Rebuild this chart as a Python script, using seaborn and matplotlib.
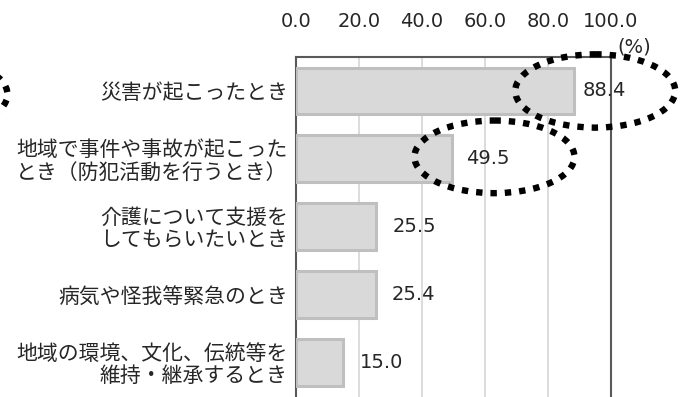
import matplotlib
matplotlib.use("Agg")
import matplotlib.pyplot as plt
from matplotlib.patches import Ellipse
import seaborn as sns
import pandas as pd

categories = [
    "災害が起こったとき",
    "地域で事件や事故が起こった\nとき（防犯活動を行うとき）",
    "介護について支援を\nしてもらいたいとき",
    "病気や怪我等緊急のとき",
    "地域の環境、文化、伝統等を\n維持・継承するとき",
]
values = [88.4, 49.5, 25.5, 25.4, 15.0]
xticks = [0, 20, 40, 60, 80, 100]
xtick_labels = ["0.0", "20.0", "40.0", "60.0", "80.0", "100.0"]

# gap (pixels) between each bar end and its value label
label_gaps = [8, 14, 16, 16, 17]

sns.set_theme(style="white")
plt.rcParams["font.family"] = ["Noto Sans CJK JP", "DejaVu Sans"]
NUM_FONT = ["DejaVu Sans"]
TXT = "#262626"

W, H = 684, 397
fig = plt.figure(figsize=(W / 100, H / 100), dpi=100)
fig.patch.set_facecolor("white")
ax = fig.add_axes([296 / W, -3 / H, 315 / W, 343 / H])

df = pd.DataFrame({"item": categories, "pct": values})
sns.barplot(data=df, x="pct", y="item", orient="h", color="#d9d9d9",
            saturation=1, edgecolor="#bfbfbf", linewidth=2.2, width=0.69,
            ax=ax, zorder=3)

ax.set_xlim(0, 100)
ax.set_ylim(4.55, -0.5)
ax.set_xlabel("")
ax.set_ylabel("")
ax.xaxis.tick_top()
ax.set_xticks(xticks)
ax.set_xticklabels(xtick_labels, family=NUM_FONT)
ax.tick_params(axis="x", length=0, pad=19, labelsize=14, labelcolor=TXT)
ax.tick_params(axis="y", length=0, pad=6, labelsize=15, labelcolor=TXT)
for lab in ax.get_yticklabels():
    lab.set_linespacing(1.0)

ax.grid(axis="x", color="#dcdcdc", linewidth=1.4, zorder=0)
ax.set_axisbelow(True)
for side in ["left", "right", "top"]:
    ax.spines[side].set_color("#595959")
    ax.spines[side].set_linewidth(1.5)
ax.spines["bottom"].set_visible(False)

for i, (v, g) in enumerate(zip(values, label_gaps)):
    ax.annotate(f"{v:.1f}", xy=(v, i), xytext=(g, 0), textcoords="offset pixels",
                ha="left", va="center", fontsize=14, family=NUM_FONT,
                color=TXT, zorder=5)

fig.text(617 / W, 1 - 47 / H, "(%)", ha="left", va="center", fontsize=14,
         family=NUM_FONT, color=TXT)

# dotted highlight rings
rings = [(95, 0, 50.8, 1.08), (63, 0.97, 50.8, 1.07), (-117, 0.05, 50.8, 1.08)]
for cx, cy, w, h in rings:
    ax.add_patch(Ellipse((cx, cy), w, h, fill=False, edgecolor="black",
                         linewidth=4.6, linestyle=(0, (1.0, 1.25)),
                         capstyle="butt", clip_on=False, zorder=6))

fig.savefig("out.png", dpi=100, facecolor="white")
